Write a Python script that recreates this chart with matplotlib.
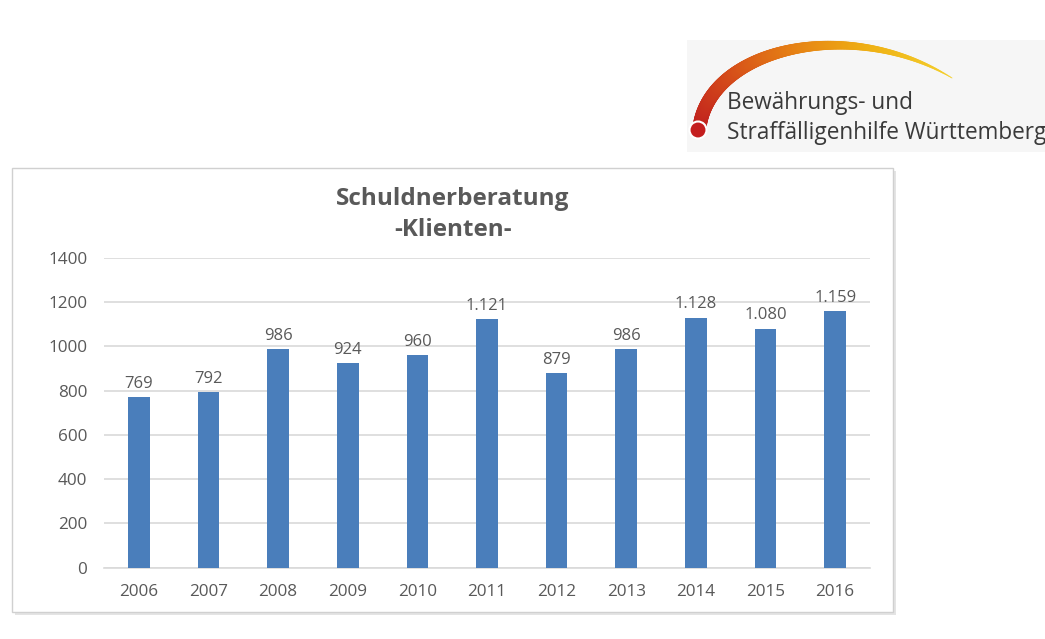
import numpy as np
import matplotlib
matplotlib.use("Agg")
import matplotlib.pyplot as plt
from matplotlib.patches import Rectangle, Circle
from matplotlib.colors import LinearSegmentedColormap

# ── data ──────────────────────────────────────────────
years = ["2006", "2007", "2008", "2009", "2010", "2011",
         "2012", "2013", "2014", "2015", "2016"]
clients = [769, 792, 986, 924, 960, 1121, 879, 986, 1128, 1080, 1159]
yticks = [0, 200, 400, 600, 800, 1000, 1200, 1400]

W, H = 1045, 639
fig = plt.figure(figsize=(W / 100, H / 100), dpi=100)
fig.patch.set_facecolor("white")

# overlay in pixel coords for frame + logo
bg = fig.add_axes([0, 0, 1, 1], zorder=0)
bg.set_xlim(0, W)
bg.set_ylim(H, 0)
bg.axis("off")

# chart frame with light shadow
bg.add_patch(Rectangle((15, 171), 881, 444, facecolor="#e4e4e4", edgecolor="none"))
bg.add_patch(Rectangle((12, 168), 881, 444, facecolor="white", edgecolor="#d0d0d0", lw=1.0))

# logo background
bg.add_patch(Rectangle((687, 40), 358, 112, facecolor="#f6f6f6", edgecolor="none"))

# logo arc: cubic bezier, red -> orange -> yellow, tapering
P = np.array([[700, 124], [714, 48], [850, 16], [952, 78]], dtype=float)
t = np.linspace(0, 1, 200)
pts = ((1 - t)[:, None] ** 3 * P[0] + 3 * ((1 - t) ** 2 * t)[:, None] * P[1]
       + 3 * ((1 - t) * t ** 2)[:, None] * P[2] + (t ** 3)[:, None] * P[3])
arc_cmap = LinearSegmentedColormap.from_list(
    "arc", ["#c0201e", "#d44a1a", "#e57e14", "#efb114", "#f4d02e"])
for i in range(len(t) - 1):
    lw = 9.5 * (1 - t[i] ** 2.0) + 0.5
    bg.plot(pts[i:i + 2, 0], pts[i:i + 2, 1], color=arc_cmap(t[i]),
            lw=lw, solid_capstyle="round")
bg.add_patch(Circle((698, 130), 8.5, facecolor="#c41e1e", edgecolor="white", lw=1.5, zorder=5))

logo_font = ["Open Sans", "DejaVu Sans"]
bg.text(727, 103, "Bewährungs- und", fontsize=16.3, color="#3a3a3a",
        family=logo_font, va="center", ha="left")
bg.text(727, 133, "Straffälligenhilfe Württemberg", fontsize=16.3, color="#3a3a3a",
        family=logo_font, va="center", ha="left")

# title
bg.text(453, 199, "Schuldnerberatung", fontsize=17.5, fontweight="bold",
        color="#595959", ha="center", va="center", family=logo_font)
bg.text(453, 230, "-Klienten-", fontsize=17.5, fontweight="bold",
        color="#595959", ha="center", va="center", family=logo_font)

# ── bar chart ────────────────────────────────────────
ax = fig.add_axes([104 / W, 1 - 567.7 / H, (870 - 104) / W, (567.7 - 257.7) / H], zorder=1)
ax.set_facecolor("none")
x = np.arange(len(years))
bars = ax.bar(x, clients, width=0.31, color="#4a7ebb", zorder=3)

for xi, v in zip(x, clients):
    lab = f"{v:,}".replace(",", ".")
    ax.annotate(lab, (xi, v), xytext=(0, 4), textcoords="offset points",
                ha="center", va="bottom", fontsize=12, color="#595959",
                family=logo_font, annotation_clip=False)

ax.set_xlim(-0.5, len(years) - 0.5)
ax.set_ylim(0, 1400)
ax.set_yticks(yticks)
ax.set_yticklabels([str(v) for v in yticks])
ax.set_xticks(x)
ax.set_xticklabels(years)
ax.grid(axis="y", color="#d9d9d9", lw=1.2, zorder=0)
ax.tick_params(length=0, labelsize=12.3, colors="#595959", pad=12)
ax.tick_params(axis="x", pad=12)
for lbl in ax.get_xticklabels() + ax.get_yticklabels():
    lbl.set_family(logo_font)
for s in ["top", "right", "left"]:
    ax.spines[s].set_visible(False)
ax.spines["bottom"].set_color("#d9d9d9")
ax.spines["bottom"].set_linewidth(1.2)

fig.savefig("out.png", dpi=100, facecolor="white")
